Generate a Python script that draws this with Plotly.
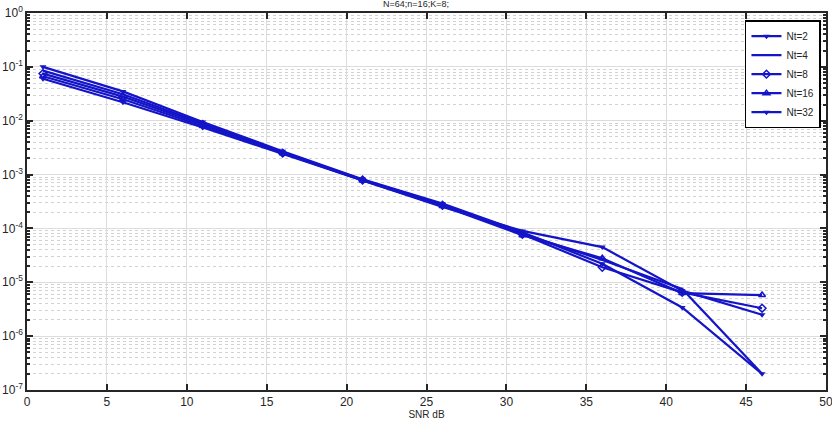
import plotly.graph_objects as go

snr = [1, 6, 11, 16, 21, 26, 31, 36, 41, 46]
nt2 = [0.1, 0.035, 0.0095, 0.0027, 0.00082, 0.00029, 8.5e-5, 2.2e-5, 3.4e-6, 2.0e-7]
nt4 = [0.085, 0.031, 0.009, 0.0026, 0.0008, 0.00028, 8.0e-5, 2.6e-5, 7.5e-6, 2.0e-7]
nt8 = [0.075, 0.028, 0.0085, 0.0025, 0.00079, 0.00027, 7.8e-5, 1.9e-5, 6.5e-6, 3.3e-6]
nt16 = [0.067, 0.025, 0.008, 0.0025, 0.00078, 0.00026, 7.5e-5, 2.8e-5, 6.3e-6, 5.8e-6]
nt32 = [0.06, 0.022, 0.0075, 0.0024, 0.00077, 0.00025, 9.0e-5, 4.5e-5, 7.0e-6, 2.5e-6]

names = ["Nt=2", "Nt=4", "Nt=8", "Nt=16", "Nt=32"]
series = [nt2, nt4, nt8, nt16, nt32]

ytickvals = [1e-7, 1e-6, 1e-5, 1e-4, 1e-3, 1e-2, 1e-1, 1]
yticktext = ["10<sup>-7</sup>", "10<sup>-6</sup>", "10<sup>-5</sup>", "10<sup>-4</sup>",
             "10<sup>-3</sup>", "10<sup>-2</sup>", "10<sup>-1</sup>", "10<sup>0</sup>"]
xtickvals = [0, 5, 10, 15, 20, 25, 30, 35, 40, 45, 50]

blue = "#1414c8"
styles = [
    dict(mode="lines+markers", marker=dict(symbol="triangle-down", size=6, color=blue)),
    dict(mode="lines"),
    dict(mode="lines+markers", marker=dict(symbol="diamond-open", size=6, color=blue, line=dict(width=1.5, color=blue))),
    dict(mode="lines+markers", marker=dict(symbol="triangle-up-open", size=6, color=blue, line=dict(width=1.5, color=blue))),
    dict(mode="lines+markers", marker=dict(symbol="triangle-down", size=6, color=blue)),
]

fig = go.Figure()
for name, ys, st in zip(names, series, styles):
    fig.add_trace(go.Scatter(x=snr, y=ys, name=name, line=dict(color=blue, width=2.2), **st))

fig.update_layout(
    width=832, height=430,
    margin=dict(l=27, r=6, t=13, b=40, autoexpand=False),
    paper_bgcolor="white", plot_bgcolor="white",
    font=dict(family="Liberation Sans, Arial, sans-serif", size=12, color="#262626"),
    title=dict(text="N=64;n=16;K=8;", x=0.5, xanchor="center", y=0.998, yanchor="top",
               font=dict(size=9, color="#262626")),
    showlegend=True,
    legend=dict(x=0.9937, xanchor="right", y=0.981, yanchor="top",
                bgcolor="white", bordercolor="black", borderwidth=1.5,
                font=dict(size=10, color="#262626"), itemwidth=30, tracegroupgap=0),
)
fig.update_xaxes(
    range=[0, 50], tickvals=xtickvals, ticks="inside", ticklen=6, tickwidth=1.5, tickcolor="#262626",
    showline=True, linecolor="#262626", linewidth=1.5, mirror="ticks", automargin=False,
    ticklabeloverflow="allow",
    showgrid=True, gridcolor="#dcdcdc", gridwidth=1, zeroline=False,
    tickfont=dict(size=12),
    title=dict(text="SNR dB", font=dict(size=10), standoff=2),
)
fig.update_yaxes(
    type="log", range=[-7, 0], tickvals=ytickvals, ticktext=yticktext, automargin=False,
    ticklabeloverflow="allow",
    ticks="inside", ticklen=6, tickwidth=1.5, tickcolor="#262626",
    showline=True, linecolor="#262626", linewidth=1.5, mirror="ticks",
    showgrid=True, gridcolor="#dcdcdc", gridwidth=1, zeroline=False,
    tickfont=dict(size=12),
    minor=dict(dtick="D1", ticks="inside", ticklen=3, tickcolor="#262626", showgrid=True,
               gridcolor="#d2d2d2", griddash="dot", gridwidth=1),
)

fig.write_html("out.html")
